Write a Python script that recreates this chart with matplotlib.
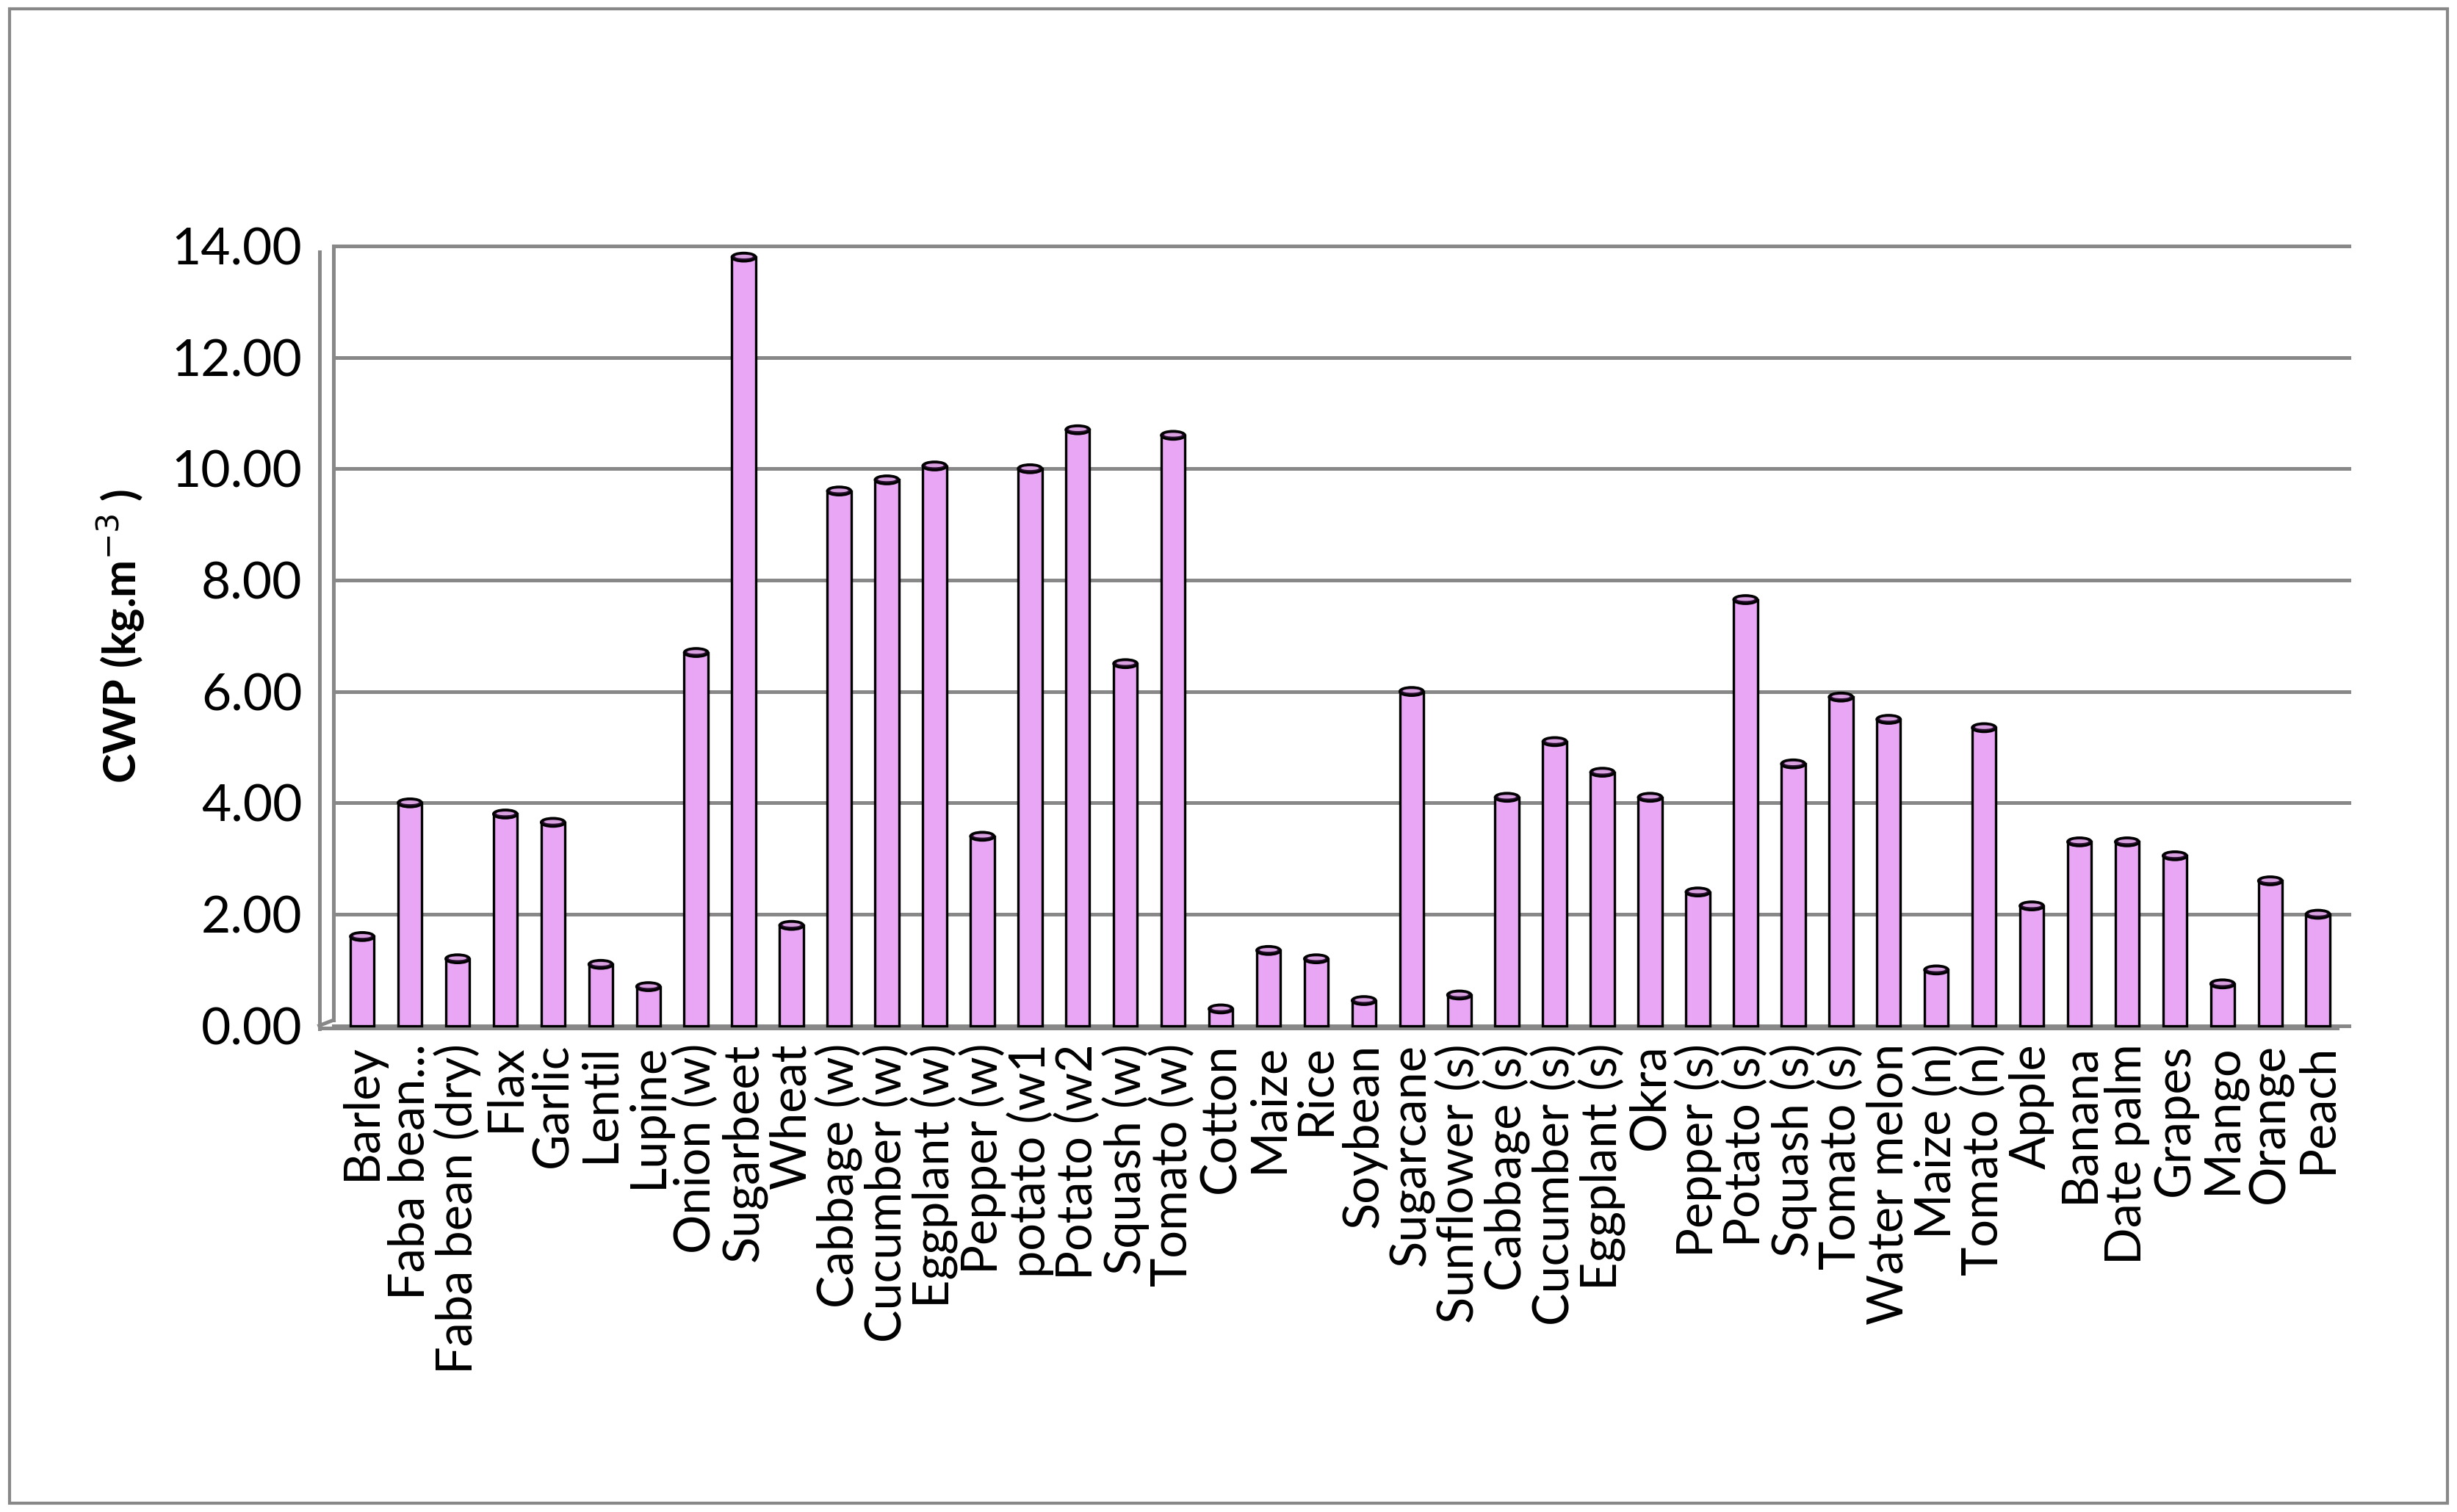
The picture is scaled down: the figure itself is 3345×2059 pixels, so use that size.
import matplotlib.pyplot as plt
from matplotlib.patches import Ellipse, Rectangle
import numpy as np

plt.rcParams['font.family'] = ['Lato', 'DejaVu Sans']

crops = ['Barley', 'Faba bean...', 'Faba bean (dry)', 'Flax', 'Garlic', 'Lentil', 'Lupine',
         'Onion (w)', 'Sugarbeet', 'Wheat', 'Cabbage (w)', 'Cucumber (w)', 'Eggplant (w)',
         'Pepper (w)', 'potato (w1', 'Potato (w2', 'Squash (w)', 'Tomato (w)', 'Cotton',
         'Maize', 'Rice', 'Soybean', 'Sugarcane', 'Sunflower (s)', 'Cabbage (s)',
         'Cucumber (s)', 'Eggplant (s)', 'Okra', 'Pepper (s)', 'Potato (s)', 'Squash (s)',
         'Tomato (s)', 'Water melon', 'Maize (n)', 'Tomato (n)', 'Apple', 'Banana',
         'Date palm', 'Grapes', 'Mango', 'Orange', 'Peach']
cwp = [1.6, 4.0, 1.2, 3.8, 3.65, 1.1, 0.7, 6.7, 13.8, 1.8, 9.6, 9.8, 10.05, 3.4, 10.0,
       10.7, 6.5, 10.6, 0.3, 1.35, 1.2, 0.45, 6.0, 0.55, 4.1, 5.1, 4.55, 4.1, 2.4, 7.65,
       4.7, 5.9, 5.5, 1.0, 5.35, 2.15, 3.3, 3.3, 3.05, 0.75, 2.6, 2.0]
yticks = np.arange(0, 14.01, 2)

fig = plt.figure(figsize=(16.725, 10.295), dpi=200)
fig.patches.append(Rectangle((0.004, 0.006), 0.992, 0.988, transform=fig.transFigure,
                             fill=False, edgecolor='#888888', lw=1.5))
ax = fig.add_axes([0.128, 0.318, 0.829, 0.523])
n = len(crops)
x = np.arange(n)
w = 0.5
cap_h = 0.15

for y in yticks:
    ax.plot([-0.6, n - 0.3], [y, y], color='#888888', lw=1.8, zorder=0)
ax.plot([-0.9, -0.6], [0, 0.1], color='#888888', lw=1.8, zorder=0)
ax.plot([-0.6, -0.6], [0.1, 14], color='#888888', lw=1.8, zorder=0)
ax.plot([-0.9, -0.9], [-0.1, 13.9], color='#888888', lw=1.8, zorder=0)
ax.plot([-0.9, n - 0.6], [-0.05, -0.05], color='#888888', lw=1.8, zorder=0)

for xi, v in zip(x, cwp):
    ax.add_patch(Rectangle((xi - w / 2, 0), w, v, facecolor='#E9A6F5',
                           edgecolor='black', lw=1.2, zorder=2))
    ax.add_patch(Ellipse((xi, v), w, cap_h, facecolor='#2a1030',
                         edgecolor='black', lw=1.2, zorder=3))
    ax.add_patch(Ellipse((xi, v + 0.01), w * 0.75, cap_h * 0.45, facecolor='#D9A0E0',
                         edgecolor='none', zorder=4))

ax.set_xlim(-1.0, n - 0.3)
ax.set_ylim(-0.1, 14.1)
ax.set_yticks(yticks)
ax.set_yticklabels(['%.2f' % t for t in yticks], fontsize=25)
ax.set_xticks(x)
ax.set_xticklabels(crops, rotation=90, fontsize=24)
ax.tick_params(length=0, pad=6)
for s in ax.spines.values():
    s.set_visible(False)
ax.set_ylabel('CWP (kg.m$^{-3}$ )', fontsize=22, fontweight='bold', labelpad=12)

fig.savefig('out.png', dpi=200)
